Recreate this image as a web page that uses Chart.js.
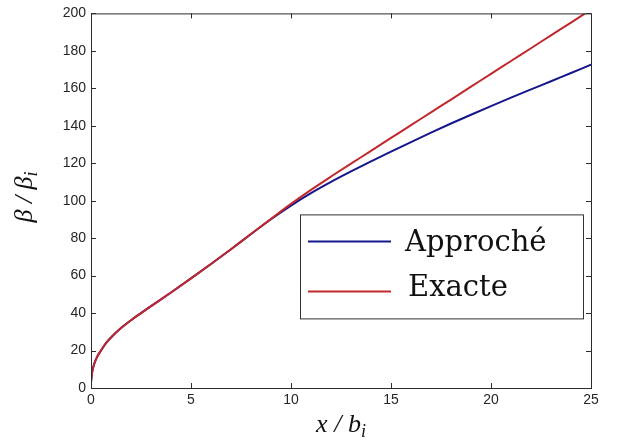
<!DOCTYPE html>
<html>
<head>
<meta charset="utf-8">
<script src="https://cdn.jsdelivr.net/npm/chart.js@4/dist/chart.umd.min.js"></script>
<style>
html, body { margin: 0; padding: 0; background: #fff; }
</style>
</head>
<body>
<canvas id="lineGraph" width="622" height="446"></canvas>
<script>
// x / b_i
const xVals = [0, 0.05, 0.15, 0.3, 0.5, 0.75, 1, 1.5, 2, 2.5, 3, 4, 5, 6, 7, 8, 9, 10,
	11, 12, 13, 14, 15, 16, 17, 18, 19, 20, 21, 22, 23, 24, 25];
// beta / beta_i, courbe approchée (bleu)
const approcheVals = [3, 8, 12.5, 16.5, 20, 24, 27, 32, 36.2, 40, 43.7, 51, 58.5, 66.2, 74.1, 82.2, 90.1, 97.4,
	104, 110, 115.6, 121, 126.2, 131.3, 136.3, 141.2, 145.9, 150.5, 155, 159.4, 163.8, 168.2, 172.6];
// courbe exacte (rouge)
const exacteVals = [3, 8, 12.5, 16.5, 20, 24, 27, 32, 36.2, 40, 43.7, 51, 58.5, 66.2, 74.1, 82.2, 90.3, 98.3,
	105.8, 112.9, 119.8, 126.6, 133.5, 140.3, 147.2, 154, 160.9, 167.7, 174.6, 181.4, 188.3, 195.1, 202];

const seriesNames = ['Approché', 'Exacte'];
const xTicks = [0, 5, 10, 15, 20, 25];
const yTicks = [0, 20, 40, 60, 80, 100, 120, 140, 160, 180, 200];

const toPoints = (vals) => vals.map((v, i) => ({ x: xVals[i], y: v }));

/**
 * cadre, petits traits, légende et titres des axes
 */
const framePlugin = {
	id: 'framePlugin',
	afterDatasetsDraw(chart) {
		const { ctx, chartArea: a, scales: { x, y } } = chart;
		ctx.save();
		ctx.strokeStyle = '#2b2b2b';
		ctx.lineWidth = 1;
		ctx.strokeRect(a.left + 0.5, a.top + 0.5, a.right - a.left, a.bottom - a.top);

		// traits vers l'intérieur, sur les quatre côtés
		ctx.beginPath();
		xTicks.forEach((v) => {
			const px = Math.round(x.getPixelForValue(v)) + 0.5;
			ctx.moveTo(px, a.bottom); ctx.lineTo(px, a.bottom - 5);
			ctx.moveTo(px, a.top); ctx.lineTo(px, a.top + 5);
		});
		yTicks.forEach((v) => {
			const py = Math.round(y.getPixelForValue(v)) + 0.5;
			ctx.moveTo(a.left, py); ctx.lineTo(a.left + 5, py);
			ctx.moveTo(a.right, py); ctx.lineTo(a.right - 5, py);
		});
		ctx.stroke();

		// légende
		const lx = a.left + 209, ly = a.top + 201, lw = 283, lh = 104;
		ctx.fillStyle = '#fff';
		ctx.fillRect(lx, ly, lw, lh);
		ctx.strokeStyle = '#333';
		ctx.strokeRect(lx + 0.5, ly + 0.5, lw, lh);
		const rows = [27, 77];
		const bases = [37, 82];
		chart.data.datasets.forEach((ds, i) => {
			ctx.strokeStyle = ds.borderColor;
			ctx.lineWidth = 2;
			ctx.beginPath();
			ctx.moveTo(lx + 8, ly + rows[i]);
			ctx.lineTo(lx + 91, ly + rows[i]);
			ctx.stroke();
			ctx.fillStyle = '#111';
			ctx.font = '29px "DejaVu Serif"';
			ctx.textAlign = 'left';
			ctx.textBaseline = 'alphabetic';
			ctx.fillText(ds.label, lx + 105 + (i ? 3 : 0), ly + bases[i]);
		});

		// titre axe x : x / b_i
		ctx.fillStyle = '#111';
		ctx.textBaseline = 'alphabetic';
		ctx.textAlign = 'left';
		ctx.font = 'italic 26px "Liberation Serif"';
		const mainX = 'x / b';
		const wx = ctx.measureText(mainX).width;
		ctx.font = 'italic 18px "Liberation Serif"';
		const wi = ctx.measureText('i').width;
		const cx = (a.left + a.right) / 2;
		const sx = cx - (wx + wi) / 2;
		ctx.font = 'italic 26px "Liberation Serif"';
		ctx.fillText(mainX, sx, 432);
		ctx.font = 'italic 18px "Liberation Serif"';
		ctx.fillText('i', sx + wx, 437);

		// titre axe y : beta / beta_i
		ctx.translate(32, 197);
		ctx.rotate(-Math.PI / 2);
		ctx.font = 'italic 26px "Liberation Serif"';
		const mainY = 'β / β';
		const wy = ctx.measureText(mainY).width;
		const sy = -(wy + wi) / 2;
		ctx.fillText(mainY, sy, 0);
		ctx.font = 'italic 18px "Liberation Serif"';
		ctx.fillText('i', sy + wy, 5);
		ctx.restore();
	}
};

const tickFont = { family: '"Liberation Sans", Arial, sans-serif', size: 14 };

const config = {
	type: 'line',
	data: {
		datasets: [{
			label: seriesNames[0],
			data: toPoints(approcheVals),
			borderColor: 'rgb(22, 22, 140)',
			borderWidth: 2,
			order: 1
		}, {
			label: seriesNames[1],
			data: toPoints(exacteVals),
			borderColor: 'rgb(192, 40, 44)',
			borderWidth: 2,
			order: 0
		}]
	},
	options: {
		responsive: false,
		maintainAspectRatio: false,
		animation: false,
		layout: { padding: { left: 0, right: 31, top: 9, bottom: 0 } },
		elements: {
			point: { radius: 0 },
			line: { cubicInterpolationMode: 'monotone', borderCapStyle: 'round' }
		},
		plugins: {
			legend: { display: false },
			tooltip: { enabled: false }
		},
		scales: {
			x: {
				type: 'linear',
				min: 0,
				max: 25,
				afterBuildTicks: (s) => { s.ticks = xTicks.map((v) => ({ value: v })); },
				afterFit: (s) => { s.height = 58; },
				grid: { display: false, drawTicks: false },
				border: { display: false },
				ticks: { color: '#262626', font: tickFont, padding: 4, maxRotation: 0 }
			},
			y: {
				min: 0,
				max: 200,
				afterBuildTicks: (s) => { s.ticks = yTicks.map((v) => ({ value: v })); },
				afterFit: (s) => { s.width = 91; },
				grid: { display: false, drawTicks: false },
				border: { display: false },
				ticks: { color: '#262626', font: tickFont, padding: 5 }
			}
		}
	},
	plugins: [framePlugin]
};

const lineChart = new Chart(document.getElementById('lineGraph'), config);
</script>
</body>
</html>
